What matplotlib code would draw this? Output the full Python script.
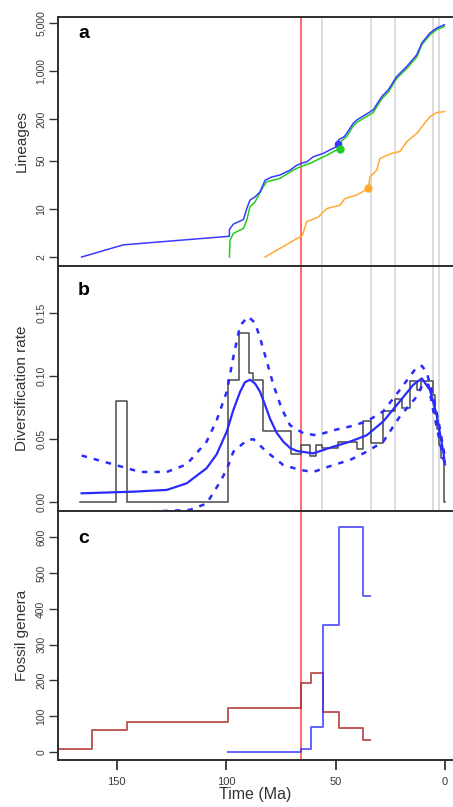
import matplotlib
matplotlib.use("Agg")
import matplotlib.pyplot as plt
from matplotlib.ticker import FixedLocator, NullLocator

plt.rcParams['font.family'] = ['Liberation Sans', 'DejaVu Sans']

# ---------------- data ----------------
# Panel a: lineages through time (time in Ma, lineages)
blue_ltt_t = [166.0, 147.0, 98.5, 98.5, 96.7, 92.1, 90.6, 89.1, 86.8, 84.5, 82.2, 79.2, 75.4, 70.8,
              67.7, 65.5, 63.2, 60.2, 55.6, 51.0, 49.5, 48.7, 46.0, 44.9, 41.9, 40.3, 32.8, 28.9,
              25.9, 22.1, 17.5, 12.9, 10.6, 6.9, 3.8, 0.3]
blue_ltt_n = [2, 3, 4, 5, 6, 7, 10, 13.4, 14.9, 17.7, 26, 29, 31, 36.5,
              43, 46, 48, 57, 64, 76, 80, 100, 112, 125, 175, 195, 273, 427,
              534, 833, 1165, 1725, 2550, 3570, 4220, 4710]
green_ltt_t = [98.5, 98.2, 96.7, 92.1, 90.6, 89.1, 86.8, 83.0, 81.5, 75.4, 69.3, 66.2, 61.7, 54.0,
               48.0, 47.6, 44.9, 41.9, 40.3, 32.8, 28.9, 25.9, 22.1, 17.5, 12.9, 10.6, 6.9, 3.8, 0.3]
green_ltt_n = [2, 3.5, 4.4, 5.2, 6.8, 10.7, 12.6, 21, 24.7, 27.7, 36.6, 40.8, 45.7, 60,
               76, 95, 112, 160, 180, 250, 395, 495, 780, 1090, 1600, 2400, 3350, 4000, 4450]
orange_ltt_t = [82.2, 65.2, 63.2, 57.9, 54.0, 48.0, 45.7, 40.3, 35.0, 34.3, 31.2, 29.7, 24.3, 20.6,
                17.5, 12.9, 6.9, 3.8, 0.3]
orange_ltt_n = [2, 4.1, 6.5, 7.6, 10.1, 11.3, 14.1, 15.9, 19.8, 29, 36.5, 54, 64, 68,
                94, 125, 218, 250, 258]
blue_dot = (48.7, 88)
green_dot = (48.0, 75)
orange_dot = (35.0, 20)

# Panel b: diversification rate
rate_edges = [166.7, 150.4, 145.4, 99.3, 94.0, 89.4, 87.6, 83.0, 70.5, 65.6, 61.7, 58.8, 56.3, 48.7,
              40.3, 37.3, 33.8, 28.5, 22.8, 19.8, 16.0, 12.9, 11.1, 5.3, 4.5, 3.6, 2.6, 1.8, 0.5, 0.0]
rate_values = [0.0, 0.080, 0.0, 0.097, 0.134, 0.102, 0.097, 0.0567, 0.038, 0.045, 0.037, 0.045, 0.043,
               0.048, 0.042, 0.064, 0.047, 0.072, 0.0815, 0.075, 0.096, 0.089, 0.096, 0.085, 0.070,
               0.058, 0.045, 0.035, 0.0]
fit_t = [166.0, 142.4, 127.1, 118.0, 108.9, 104.3, 99.7, 96.7, 93.6, 91.4, 89.1, 86.8, 84.5, 82.2,
         79.9, 76.9, 73.9, 70.8, 67.7, 60.2, 51.0, 43.4, 35.8, 28.2, 20.6, 14.5, 10.6, 6.9, 3.8, 0.8, 0.0]
fit_mid = [0.0071, 0.0084, 0.0098, 0.015, 0.027, 0.038, 0.056, 0.073, 0.0875, 0.095, 0.097, 0.094,
           0.0875, 0.077, 0.066, 0.055, 0.048, 0.043, 0.0406, 0.0387, 0.044, 0.048, 0.053, 0.064,
           0.080, 0.093, 0.098, 0.089, 0.069, 0.040, 0.030]
up_t = [166.0, 151.5, 139.3, 127.1, 118.0, 108.9, 104.3, 99.7, 96.7, 93.6, 89.9, 86.8, 84.5, 81.5,
        78.4, 74.6, 70.8, 64.7, 58.6, 51.0, 43.4, 35.8, 28.2, 20.6, 12.9, 10.6, 8.4, 5.3, 2.3, 0.0]
fit_up = [0.037, 0.030, 0.024, 0.024, 0.030, 0.048, 0.065, 0.0875, 0.115, 0.140, 0.147, 0.142, 0.130,
          0.112, 0.093, 0.074, 0.061, 0.0546, 0.053, 0.057, 0.060, 0.064, 0.072, 0.089, 0.107, 0.108,
          0.103, 0.0835, 0.058, 0.035]
lo_t = [166.0, 150.0, 139.3, 127.1, 116.5, 108.9, 102.8, 99.7, 96.7, 90.6, 87.6, 81.5, 73.9, 66.2,
        60.2, 51.0, 43.4, 35.8, 28.2, 20.6, 13.7, 9.9, 7.6, 5.3, 0.8, 0.0]
fit_lo = [-0.03, -0.015, -0.0074, -0.0068, -0.006, -0.001, 0.016, 0.026, 0.040, 0.049, 0.050, 0.040,
          0.0295, 0.0256, 0.024, 0.0295, 0.0335, 0.040, 0.048, 0.068, 0.082, 0.094, 0.093, 0.072,
          0.035, 0.030]

# Panel c: fossil genera
red_edges = [178.0, 161.4, 145.4, 99.3, 65.6, 61.4, 55.9, 48.5, 37.3, 34.3]
red_values = [9, 61, 82, 122, 192, 220, 110, 66, 33]
fblue_edges = [99.3, 65.6, 61.4, 55.9, 48.5, 37.3, 34.3]
fblue_values = [0, 9, 69, 354, 630, 436]

event_lines = [56.0, 33.9, 23.0, 5.3, 2.6]
kpg = 66.0

# ---------------- figure ----------------
W, H = 453, 807
fig = plt.figure(figsize=(W / 100, H / 100), dpi=100)

left_px, right_px = 58, 453
def ax_at(top, bottom):
    return fig.add_axes([left_px / W, 1 - bottom / H, (right_px - left_px) / W, (bottom - top) / H])

axa = ax_at(17, 266)
axb = ax_at(266, 511)
axc = ax_at(511, 760)

xlim = (176.8, -3.65)
tick_col = '#3a3a3a'
for ax in (axa, axb, axc):
    ax.set_xlim(*xlim)
    ax.spines['right'].set_visible(False)
    for s in ('left', 'top', 'bottom'):
        ax.spines[s].set_linewidth(1.4)
        ax.spines[s].set_color('#2e2e2e')
    ax.tick_params(axis='y', direction='out', length=6.5, width=1.0, colors='#333333',
                   labelsize=7.5, labelcolor=tick_col, pad=2, labelrotation=90)
    ax.axvline(kpg, color='#ff5050', lw=1.2, zorder=1)

for ax in (axa, axb):
    for t in event_lines:
        ax.axvline(t, color='#d9d9d9', lw=1.3, zorder=0)
    ax.xaxis.set_major_locator(NullLocator())

lab_kw = dict(fontsize=11, color='#333333', labelpad=5)
plab_kw = dict(fontsize=14, fontweight='bold', va='center', ha='center')

# panel a
axa.set_yscale('log')
axa.set_ylim(1.48, 6100)
axa.yaxis.set_major_locator(FixedLocator([2, 10, 50, 200, 1000, 5000]))
axa.yaxis.set_minor_locator(NullLocator())
axa.set_yticklabels(['2', '10', '50', '200', '1,000', '5,000'], va='center')
axa.plot(blue_ltt_t, blue_ltt_n, color='#3a3aff', lw=1.1, zorder=3)
axa.plot(green_ltt_t, green_ltt_n, color='#22cc22', lw=1.1, zorder=2)
axa.plot(orange_ltt_t, orange_ltt_n, color='#ffaa33', lw=1.1, zorder=2)
axa.plot(*blue_dot, 'o', color='#3a3aff', ms=4.5, zorder=3)
axa.plot(*green_dot, 'o', color='#22cc22', ms=5, zorder=4)
axa.plot(*orange_dot, 'o', color='#ffaa33', ms=5, zorder=4)
axa.set_ylabel('Lineages', **lab_kw)
axa.text(0.066, 0.932, 'a', transform=axa.transAxes, **plab_kw)

# panel b
axb.set_ylim(-0.0069, 0.187)
axb.yaxis.set_major_locator(FixedLocator([0.0, 0.05, 0.10, 0.15]))
axb.set_yticklabels(['0.00', '0.05', '0.10', '0.15'], va='center')
axb.plot(rate_edges, rate_values + [rate_values[-1]], drawstyle='steps-post', color='#4a4a4a', lw=1.1, zorder=2)
axb.plot(fit_t, fit_mid, color='#2a2aff', lw=1.6, zorder=3)
axb.plot(up_t, fit_up, color='#2a2aff', lw=1.8, ls=(0, (2.2, 2.8)), zorder=3)
axb.plot(lo_t, fit_lo, color='#2a2aff', lw=1.8, ls=(0, (2.2, 2.8)), zorder=3)
axb.set_ylabel('Diversification rate', **lab_kw)
axb.text(0.066, 0.902, 'b', transform=axb.transAxes, **plab_kw)

# panel c
axc.set_ylim(-23, 674)
axc.yaxis.set_major_locator(FixedLocator([0, 100, 200, 300, 400, 500, 600]))
axc.set_yticklabels(['0', '100', '200', '300', '400', '500', '600'], va='center')
axc.plot(red_edges, red_values + [red_values[-1]], drawstyle='steps-post', color='#b03030', alpha=0.8, lw=1.4, zorder=2)
axc.plot(fblue_edges, fblue_values + [fblue_values[-1]], drawstyle='steps-post', color='#3030ff', alpha=0.75, lw=1.4, zorder=2)
axc.set_ylabel('Fossil genera', **lab_kw)
axc.text(0.066, 0.888, 'c', transform=axc.transAxes, **plab_kw)
axc.xaxis.set_major_locator(FixedLocator([150, 100, 50, 0]))
axc.tick_params(axis='x', direction='out', length=7.5, width=1.3, colors='#333333', labelsize=8,
                labelcolor=tick_col, pad=5)
axc.set_xlabel('Time (Ma)', fontsize=11.5, color='#333333', labelpad=0)

fig.savefig('out.png', dpi=100)
